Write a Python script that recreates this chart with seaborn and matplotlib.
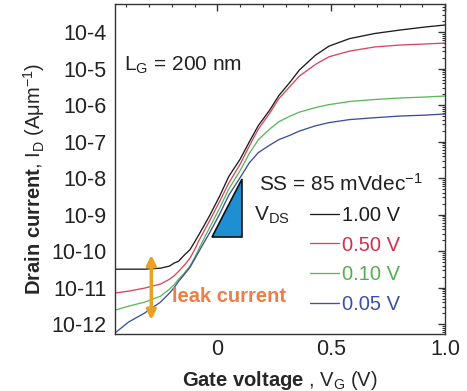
import numpy as np
import pandas as pd
import matplotlib
matplotlib.use("Agg")
import matplotlib.pyplot as plt
import seaborn as sns
from matplotlib.ticker import FixedLocator, FixedFormatter, LogLocator, MultipleLocator, NullFormatter

# ---------------- data ----------------
vg = [-0.45, -0.39, -0.32, -0.25, -0.21, -0.19, -0.17, -0.145, -0.12, -0.10,
      -0.08, -0.035, 0.01, 0.05, 0.10, 0.14, 0.18, 0.23, 0.27, 0.32,
      0.36, 0.43, 0.49, 0.58, 0.69, 0.80, 0.91, 1.00]

id_100 = [3.2e-11, 3.2e-11, 3.2e-11, 3.4e-11, 3.9e-11, 4.7e-11, 5.3e-11, 7.8e-11, 1.1e-10, 1.77e-10,
          2.9e-10, 9.1e-10, 3.2e-9, 1.1e-8, 3.3e-8, 9.7e-8, 2.75e-7, 7.3e-7, 1.82e-6, 4.3e-6,
          9.1e-6, 2.3e-5, 4.1e-5, 6.6e-5, 9.1e-5, 1.13e-4, 1.37e-4, 1.56e-4]
id_050 = [7.1e-12, 8.0e-12, 9.7e-12, 1.25e-11, 1.7e-11, 2.1e-11, 2.8e-11, 4.1e-11, 6.4e-11, 1.1e-10,
          2.0e-10, 6.6e-10, 2.3e-9, 7.3e-9, 2.4e-8, 7.5e-8, 2.2e-7, 6.0e-7, 1.5e-6, 3.3e-6,
          6.2e-6, 1.29e-5, 2.1e-5, 3.0e-5, 3.9e-5, 4.4e-5, 4.7e-5, 5.0e-5]
id_010 = [2.4e-12, 3.1e-12, 4.0e-12, 5.8e-12, 9.1e-12, 1.2e-11, 1.7e-11, 2.5e-11, 3.9e-11, 6.6e-11,
          1.2e-10, 4.3e-10, 1.5e-9, 5.0e-9, 1.6e-8, 4.7e-8, 1.13e-7, 2.2e-7, 3.5e-7, 5.0e-7,
          6.4e-7, 8.5e-7, 1.03e-6, 1.25e-6, 1.42e-6, 1.56e-6, 1.66e-6, 1.77e-6]
id_005 = [5.7e-13, 1.14e-12, 2.0e-12, 4.0e-12, 7.1e-12, 1.0e-11, 1.5e-11, 2.3e-11, 3.6e-11, 6.0e-11,
          1.0e-10, 3.1e-10, 1.03e-9, 3.4e-9, 1.03e-8, 2.6e-8, 5.0e-8, 8.0e-8, 1.13e-7, 1.5e-7,
          1.94e-7, 2.7e-7, 3.3e-7, 4.0e-7, 4.5e-7, 5.0e-7, 5.3e-7, 5.7e-7]

vds_labels = ["1.00 V", "0.50 V", "0.10 V", "0.05 V"]
line_colors = ["#1c1c1c", "#d9465e", "#5cb85a", "#3c4f9e"]
text_colors = ["#1c1c1c", "#d0304c", "#55ad50", "#3a52a3"]

ytick_vals = [1e-12, 1e-11, 1e-10, 1e-9, 1e-8, 1e-7, 1e-6, 1e-5, 1e-4]
ytick_labels = ["10-12", "10-11", "10-10", "10-9", "10-8", "10-7", "10-6", "10-5", "10-4"]
xtick_vals = [0.0, 0.5, 1.0]
xtick_labels = ["0", "0.5", "1.0"]

# slope triangle (annotation) and leak-current arrow
tri_x = [-0.022, 0.11, 0.11]
tri_y = [10**-9.62, 10**-9.62, 10**-8.03]
arrow_x = -0.29
arrow_y = [1.1e-12, 9.3e-11]

# ---------------- style ----------------
sns.set_style("white")
plt.rcParams["font.family"] = ["Liberation Sans", "DejaVu Sans"]
plt.rcParams["mathtext.fontset"] = "custom"
plt.rcParams["mathtext.rm"] = "Liberation Sans"
plt.rcParams["mathtext.bf"] = "Liberation Sans:bold"
plt.rcParams["mathtext.it"] = "Liberation Sans:italic"
plt.rcParams["mathtext.sf"] = "Liberation Sans"

df = pd.DataFrame({
    "Vg": vg * 4,
    "Id": id_100 + id_050 + id_010 + id_005,
    "Vds": [lab for lab in vds_labels for _ in vg],
})

fig = plt.figure(figsize=(4.67, 3.91), dpi=100)
ax = fig.add_axes([0.246, 0.146, 0.707, 0.844])

sns.lineplot(data=df, x="Vg", y="Id", hue="Vds", hue_order=vds_labels,
             palette=dict(zip(vds_labels, line_colors)), ax=ax, legend=False,
             linewidth=0.95, sort=False)
for ln in ax.get_lines():
    ln.set_solid_joinstyle("round")

ax.set_yscale("log")
ax.set_xlim(-0.45, 1.0)
ax.set_ylim(5.4e-13, 5.9e-4)

ax.yaxis.set_major_locator(FixedLocator(ytick_vals))
ax.yaxis.set_major_formatter(FixedFormatter(ytick_labels))
ax.yaxis.set_minor_locator(LogLocator(base=10, subs=np.arange(2, 10), numticks=30))
ax.yaxis.set_minor_formatter(NullFormatter())
ax.xaxis.set_major_locator(FixedLocator(xtick_vals))
ax.xaxis.set_major_formatter(FixedFormatter(xtick_labels))
ax.xaxis.set_minor_locator(MultipleLocator(0.1))

ax.tick_params(which="both", direction="in", top=True, right=True, colors="#333333")
ax.tick_params(which="major", length=5, width=1.0, labelsize=15.5, labelcolor="#222222")
ax.tick_params(axis="y", which="major", pad=6)
ax.tick_params(axis="x", which="major", pad=4)
ax.tick_params(which="minor", length=2.5, width=0.8)
for sp in ax.spines.values():
    sp.set_color("#333333")
    sp.set_linewidth(1.0)

ax.set_xlabel(r"$\mathbf{Gate\ voltage}$ , V$_{\mathrm{G}}$ (V)", fontsize=14.5, labelpad=6)
ax.set_ylabel("$\\mathbf{Drain\\ current}$, I$_{\\mathrm{D}}$ (A\u03bcm$^{\\mathrm{-1}}$)",
              fontsize=14.5)
ax.yaxis.set_label_coords(-0.205, 0.47)

# annotations
ax.text(-0.408, 1.26e-5, r"L$_{\mathrm{G}}$ = 200 nm", fontsize=15, va="center", ha="left", color="#222222")
ax.text(0.184, 10**-8.15, r"SS = 85 mVdec$^{\mathrm{-1}}$", fontsize=15, va="center", ha="left", color="#222222")
ax.fill(tri_x, tri_y, facecolor="#1f8fd2", edgecolor="#111111", linewidth=1.2, zorder=3)
ax.annotate("", xy=(arrow_x, arrow_y[0]), xytext=(arrow_x, arrow_y[1]),
            arrowprops=dict(arrowstyle="<|-|>", color="#e9a023", lw=2.5, mutation_scale=14))
ax.text(-0.197, 10**-11.23, "leak current", fontsize=14.5, fontweight="bold",
        color="#f07d45", va="center", ha="left")

# legend
ax.text(0.162, 10**-9.01, r"V$_{\mathrm{DS}}$", fontsize=15, va="center", ha="left", color="#222222")
handles = ax.get_lines()[:4]
ax.legend(handles, vds_labels, loc="upper left", bbox_to_anchor=(0.59, 0.388),
          frameon=False, fontsize=14.5, handlelength=1.45, handletextpad=0.15,
          labelspacing=0.53, borderpad=0, borderaxespad=0, labelcolor=text_colors)

fig.savefig("out.png", dpi=100)
